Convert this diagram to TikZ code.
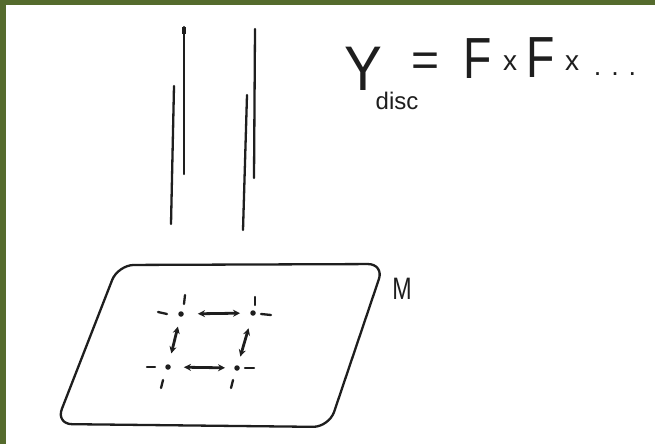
\documentclass[tikz,border=0pt]{standalone}
\usepackage{fontspec}
\setmainfont{Liberation Sans}
\usetikzlibrary{arrows.meta}
\definecolor{frame}{RGB}{85,107,45}
\definecolor{ink}{RGB}{30,30,30}
\tikzset{
  stroke/.style={draw=ink, line width=2.3pt, line cap=round},
  dbl/.style={draw=ink, line width=2.8pt, {Stealth[length=7pt,width=7pt]}-{Stealth[length=7pt,width=7pt]}},
  dotnode/.style={circle, fill=ink, inner sep=0pt, minimum size=5.5pt},
  txt/.style={inner sep=0pt, text=ink},
}
\begin{document}
\begin{tikzpicture}[x=1pt, y=-1pt]
\path[use as bounding box] (0,0) rectangle (655,444);
\fill[white] (0,0) rectangle (655,444);
\fill[frame] (0,0) rectangle (655,5);
\fill[frame] (0,0) rectangle (6,444);

% vertical strokes
\draw[stroke] (184,27) -- (184,174);
\draw[stroke, line width=3.8pt, line cap=butt] (184,27) -- (184,34);
\draw[stroke] (174,86) -- (171,224);
\draw[stroke] (255,29) -- (254,178);
\draw[stroke] (247,95) -- (243,230);

% the plane M
\draw[stroke, rounded corners=16pt] (118,265) -- (384,264) -- (329,427) -- (56,424) -- cycle;
\node[txt, font=\fontsize{31}{31}\selectfont, xscale=0.75] (M) at (402,289) {M};

% lattice points
\node[dotnode] (tl) at (181,314) {};
\node[dotnode] (tr) at (253,313) {};
\node[dotnode] (bl) at (168,367) {};
\node[dotnode] (br) at (237,368) {};

% small dashes at the lattice points
\draw[stroke] (158,312) -- (167,314);
\draw[stroke] (185,295) -- (184,304);
\draw[stroke] (255,297) -- (255,305);
\draw[stroke] (261,314) -- (271,315);
\draw[stroke] (147,367) -- (155,367);
\draw[stroke] (163,380) -- (161,388);
\draw[stroke] (245,368) -- (254,368);
\draw[stroke] (233,380) -- (231,388);

% double arrows
\draw[dbl, shorten <=14pt, shorten >=10pt] (tl) -- (tr);
\draw[dbl, shorten <=13pt, shorten >=9pt] (bl) -- (br);
\draw[dbl, shorten <=10pt, shorten >=11pt] (tl) -- (bl);
\draw[dbl, shorten <=13pt, shorten >=9pt] (tr) -- (br);

% formula
\node[txt, font=\fontsize{63}{63}\selectfont, xscale=0.9] (Y) at (363,69) {Y};
\node[txt, font=\fontsize{24}{24}\selectfont] (disc) at (397,101) {disc};
\node[txt, font=\fontsize{48}{48}\selectfont] (eq) at (426,65) {=};
\node[txt, font=\fontsize{58}{58}\selectfont, xscale=0.8] (F1) at (478,59) {F};
\node[txt, font=\fontsize{28}{28}\selectfont] (x1) at (510,63) {x};
\node[txt, font=\fontsize{58}{58}\selectfont, xscale=0.8] (F2) at (541,58) {F};
\node[txt, font=\fontsize{28}{28}\selectfont] (x2) at (572,63) {x};
\node[txt, font=\fontsize{27}{27}\selectfont] (dots) at (615,74) {. . .};
\end{tikzpicture}
\end{document}
